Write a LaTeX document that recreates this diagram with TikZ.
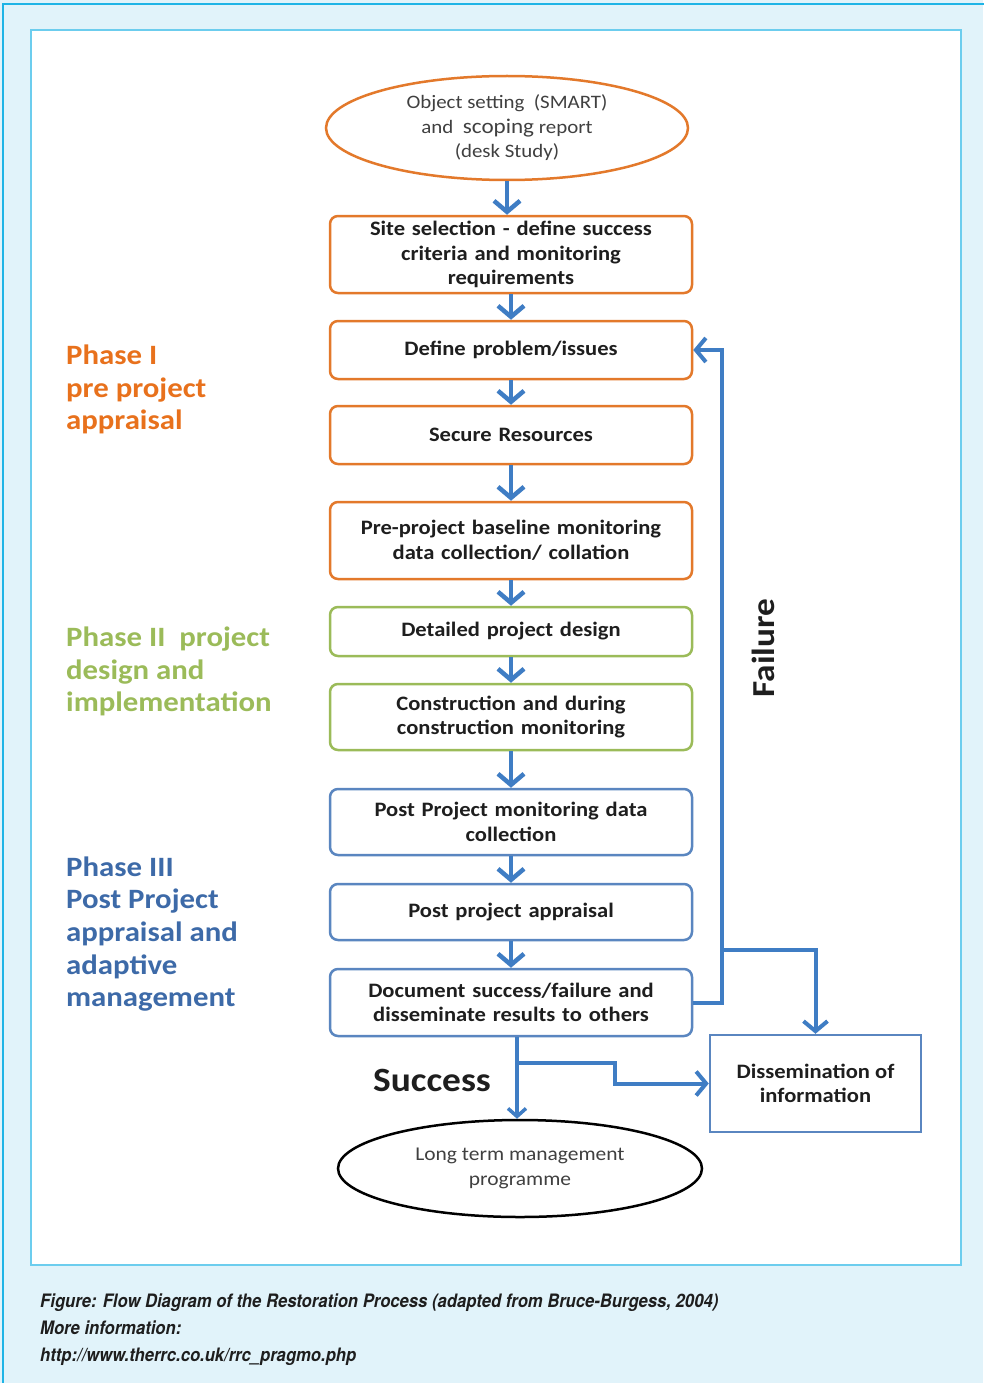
\documentclass[tikz,border=0pt]{standalone}
\usepackage{fontspec}
\setmainfont{Carlito}
\newfontfamily\widefont[FakeStretch=1.1]{Carlito}
\newfontfamily\capfont[FakeStretch=0.9]{TeX Gyre Heros}
\usetikzlibrary{arrows.meta,shapes.geometric}
\definecolor{bgblue}{HTML}{E1F3FA}
\definecolor{framecyan}{HTML}{1EB4E6}
\definecolor{panelcyan}{HTML}{6CCDEE}
\definecolor{orng}{HTML}{E3792B}
\definecolor{orngtxt}{HTML}{E8711C}
\definecolor{grn}{HTML}{9BBB59}
\definecolor{bluebox}{HTML}{5A86C0}
\definecolor{bluetxt}{HTML}{3D6AA8}
\definecolor{arrowblue}{HTML}{3F7DC4}
\definecolor{txt}{HTML}{1E1E1E}
\tikzset{
  boxbase/.style={draw, line width=2.5pt, rounded corners=8pt, fill=white, minimum width=362pt,
    text width=350pt, align=center, inner sep=0pt, text=txt,
    font=\widefont\bfseries\fontsize{20.5}{24.5}\selectfont},
  obox/.style={boxbase, draw=orng},
  gbox/.style={boxbase, draw=grn},
  bbox/.style={boxbase, draw=bluebox},
  arr/.style={draw=arrowblue, line width=4.5pt, -{Straight Barb[length=11pt,width=26pt,line width=4.5pt]}},
  arrthin/.style={draw=arrowblue, line width=4pt, -{Straight Barb[length=10pt,width=24pt,line width=4pt]}},
  arrsmall/.style={draw=arrowblue, line width=3.5pt, -{Straight Barb[length=8pt,width=18pt,line width=3.5pt]}},
  phase/.style={anchor=west, align=left, inner sep=0pt, font=\widefont\bfseries\fontsize{28}{32.7}\selectfont},
  captxt/.style={anchor=base west, inner sep=0pt, text=txt, font=\capfont\bfseries\itshape\fontsize{18.5}{20}\selectfont}
}
\begin{document}
\begin{tikzpicture}[x=1pt,y=-1pt]
\useasboundingbox (0,0) rectangle (983,1383);
\fill[bgblue] (0,0) rectangle (983,1383);
\draw[framecyan, line width=1.5pt] (3,1400) -- (3,4) -- (1000,4);
\draw[panelcyan, line width=1.5pt, fill=white] (31,30) rectangle (961,1265);

% top ellipse
\node[ellipse, draw=orng, line width=2.5pt, fill=white, minimum width=362pt, minimum height=104pt,
  inner sep=0pt, align=center, text=txt!85, font=\widefont\fontsize{19}{24.5}\selectfont] (e1) at (507,128)
  {Object setting\ \ (SMART)\\and\ \ {\fontsize{21}{24.5}\selectfont scoping} report\\(desk Study)};

\node[obox, minimum height=77pt] (b1) at (511,254.5) {Site selection - define success\\criteria and monitoring\\requirements};
\node[obox, minimum height=58pt] (b2) at (511,350) {Define problem/issues};
\node[obox, minimum height=58pt] (b3) at (511,435) {Secure Resources};
\node[obox, minimum height=77pt] (b4) at (511,540.5) {Pre-project baseline monitoring\\data collection/ collation};
\node[gbox, minimum height=49pt] (b5) at (511,631.5) {Detailed project design};
\node[gbox, minimum height=66pt] (b6) at (511,717) {Construction and during\\construction monitoring};
\node[bbox, minimum height=66pt] (b7) at (511,822) {Post Project monitoring data\\collection};
\node[bbox, minimum height=56pt] (b8) at (511,912) {Post project appraisal};
\node[bbox, minimum height=67pt] (b9) at (511,1002.5) {Document success/failure and\\disseminate results to others};

\node[draw=bluebox, line width=2.5pt, fill=white, minimum width=211pt, minimum height=97pt, inner sep=0pt,
  align=center, text=txt, font=\widefont\bfseries\fontsize{20.5}{24.5}\selectfont] (dis) at (815.5,1083.5)
  {Dissemination of\\information};

\node[ellipse, draw=black, line width=2.5pt, fill=white, minimum width=364pt, minimum height=97pt,
  inner sep=0pt, align=center, text=txt!85, font=\widefont\fontsize{19.5}{24.5}\selectfont] (e2) at (520,1168.5)
  {Long term management\\programme};

% vertical arrows
\draw[arr] (e1.south) -- (e1.south |- b1.north);
\draw[arr] (b1.south) -- (b2.north);
\draw[arr] (b2.south) -- (b3.north);
\draw[arr] (b3.south) -- (b4.north);
\draw[arr] (b4.south) -- (b5.north);
\draw[arr] (b5.south) -- (b6.north);
\draw[arr] (b6.south) -- (b7.north);
\draw[arr] (b7.south) -- (b8.north);
\draw[arr] (b8.south) -- (b9.north);

% failure loop
\coordinate (fx) at (722,950);
\draw[arrthin] (b9.east) -- (fx |- b9.east) |- (b2.east);
\draw[arrthin] (fx) -| (dis.north);

% success
\coordinate (sx) at (517,1063);
\draw[arrsmall] (sx |- b9.south) -- (sx |- e2.north);
\draw[arrthin] (sx) -- (615,1063) |- (dis.west);

\node[font=\widefont\bfseries\fontsize{34}{34}\selectfont, text=txt] (succ) at (432,1080) {Success};
\node[rotate=90, font=\widefont\bfseries\fontsize{32}{32}\selectfont, text=txt] (fail) at (763,648) {Failure};

% phase labels
\node[phase, text=orngtxt] (p1) at (66,389.5) {Phase I\\pre project\\appraisal};
\node[phase, text=grn] (p2) at (66,671.5) {Phase II\ \ project\\design and\\implementation};
\node[phase, text=bluetxt] (p3) at (66,934) {Phase III\\Post Project\\appraisal and\\adaptive\\management};

% caption
\node[captxt] (c1) at (40,1307) {Figure: Flow Diagram of the Restoration Process (adapted from Bruce-Burgess, 2004)};
\node[captxt] (c2) at (40,1334) {More information:};
\node[captxt] (c3) at (40,1361) {http://www.therrc.co.uk/rrc\_pragmo.php};
\end{tikzpicture}
\end{document}
